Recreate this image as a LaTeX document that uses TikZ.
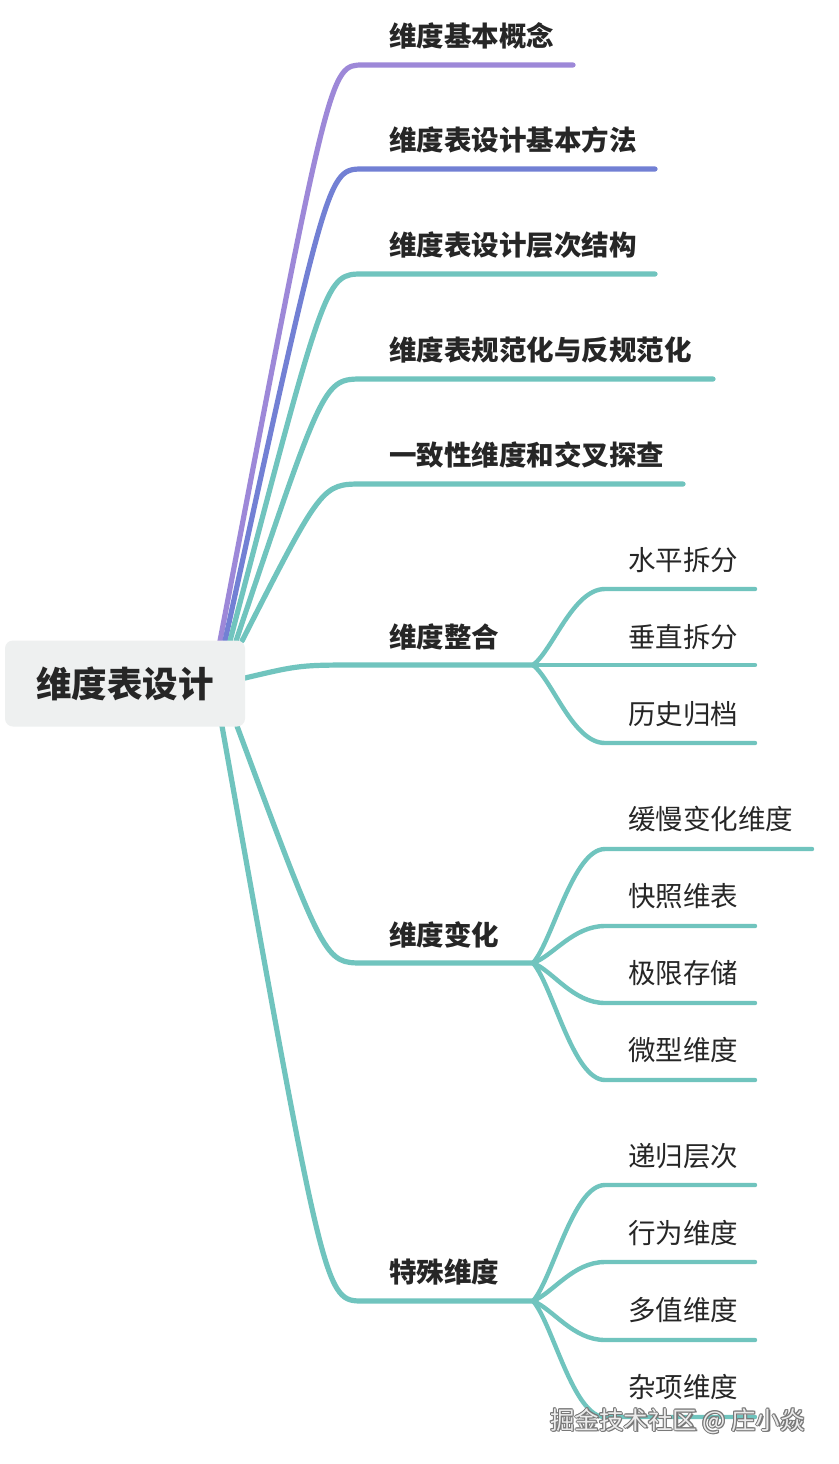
\documentclass[tikz,border=0pt]{standalone}
\usepackage{fontspec}
\newfontfamily\cjk{Noto Sans CJK SC}
\usetikzlibrary{backgrounds}
\definecolor{cpurple}{RGB}{157,136,216}
\definecolor{cblue}{RGB}{114,128,212}
\definecolor{cteal}{RGB}{112,196,190}
\definecolor{ctext}{RGB}{38,38,38}
\definecolor{rootfill}{RGB}{238,240,240}
\definecolor{wmfill}{RGB}{236,236,236}
\definecolor{wmedge}{RGB}{120,120,120}
\tikzset{
  rootbox/.style={draw=none, fill=rootfill, rounded corners=8pt, minimum width=240pt, minimum height=86pt, inner sep=0pt, text=ctext, font=\cjk\bfseries\fontsize{35.5}{40}\selectfont},
  lonelabel/.style={anchor=west, inner sep=0pt, text=ctext, font=\cjk\bfseries\fontsize{27.5}{32}\selectfont},
  ltwolabel/.style={anchor=west, inner sep=0pt, text=ctext, font=\cjk\fontsize{27.5}{32}\selectfont},
  mainline/.style={line width=5.2pt, line cap=round, line join=round},
  subline/.style={line width=4.4pt, line cap=round, line join=round, cteal},
  wmtext/.style={anchor=west, inner sep=0pt, font=\cjk\fontsize{24.5}{28}\selectfont},
}
\begin{document}
\begin{tikzpicture}[x=1pt,y=-1pt]
\useasboundingbox (0,0) rectangle (838,1464);

% root
\node[rootbox] (root) at (125,683.5) {维度表设计};

% start points on the root
\coordinate (s1) at (220,641);
\coordinate (s2) at (225,641);
\coordinate (s3) at (230,641);
\coordinate (s4) at (236,641);
\coordinate (s5) at (242,641);
\coordinate (s6) at (245,678);
\coordinate (s7) at (237,726);
\coordinate (s8) at (222,726);

% level-1 labels
\node[lonelabel] (n1) at (389,36) {维度基本概念};
\node[lonelabel] (n2) at (389,140) {维度表设计基本方法};
\node[lonelabel] (n3) at (389,245) {维度表设计层次结构};
\node[lonelabel] (n4) at (389,350) {维度表规范化与反规范化};
\node[lonelabel] (n5) at (389,455) {一致性维度和交叉探查};
\node[lonelabel] (n6) at (389,637) {维度整合};
\node[lonelabel] (n7) at (389,935) {维度变化};
\node[lonelabel] (n8) at (389,1272) {特殊维度};

% level-1 line bends and ends
\coordinate (n1a) at (363,65);   \coordinate (n1b) at (573,65);
\coordinate (n2a) at (363,169);  \coordinate (n2b) at (655,169);
\coordinate (n3a) at (363,274);  \coordinate (n3b) at (655,274);
\coordinate (n4a) at (363,379);  \coordinate (n4b) at (713,379);
\coordinate (n5a) at (363,484);  \coordinate (n5b) at (683,484);
\coordinate (n6a) at (363,665);  \coordinate (f6) at (533,665);
\coordinate (n7a) at (363,963);  \coordinate (f7) at (533,963);
\coordinate (n8a) at (363,1301); \coordinate (f8) at (533,1301);

% level-2 labels
\node[ltwolabel] (c61) at (628,560) {水平拆分};
\node[ltwolabel] (c62) at (628,637) {垂直拆分};
\node[ltwolabel] (c63) at (628,714) {历史归档};
\node[ltwolabel] (c71) at (628,819) {缓慢变化维度};
\node[ltwolabel] (c72) at (628,896) {快照维表};
\node[ltwolabel] (c73) at (628,973) {极限存储};
\node[ltwolabel] (c74) at (628,1050) {微型维度};
\node[ltwolabel] (c81) at (628,1156) {递归层次};
\node[ltwolabel] (c82) at (628,1233) {行为维度};
\node[ltwolabel] (c83) at (628,1310) {多值维度};
\node[ltwolabel] (c84) at (628,1387) {杂项维度};

% level-2 line bends and ends
\coordinate (c61a) at (605,589);  \coordinate (c61b) at (755,589);
\coordinate (c62b) at (755,665);
\coordinate (c63a) at (605,743);  \coordinate (c63b) at (755,743);
\coordinate (c71a) at (605,849);  \coordinate (c71b) at (812,849);
\coordinate (c72a) at (605,926);  \coordinate (c72b) at (755,926);
\coordinate (c73a) at (605,1003); \coordinate (c73b) at (755,1003);
\coordinate (c74a) at (605,1080); \coordinate (c74b) at (755,1080);
\coordinate (c81a) at (605,1185); \coordinate (c81b) at (755,1185);
\coordinate (c82a) at (605,1262); \coordinate (c82b) at (755,1262);
\coordinate (c83a) at (605,1340); \coordinate (c83b) at (755,1340);
\coordinate (c84a) at (605,1417); \coordinate (c84b) at (755,1417);

\begin{scope}[on background layer]
  \fill[white] (0,0) rectangle (838,1464);
  % level-1 connectors
  \draw[mainline,cpurple] (s1) .. controls (330,65) .. (n1a) -- (n1b);
  \draw[mainline,cblue]   (s2) .. controls (328,169) .. (n2a) -- (n2b);
  \draw[mainline,cteal]   (s3) .. controls (326,274) .. (n3a) -- (n3b);
  \draw[mainline,cteal]   (s4) .. controls (324,379) .. (n4a) -- (n4b);
  \draw[mainline,cteal]   (s5) .. controls (322,484) .. (n5a) -- (n5b);
  \draw[mainline,cteal]   (s6) .. controls (300,665) .. (n6a) -- (f6);
  \draw[mainline,cteal]   (s7) .. controls (325,963) .. (n7a) -- (f7);
  \draw[mainline,cteal]   (s8) .. controls (325,1301) .. (n8a) -- (f8);
  % level-2 connectors
  \draw[subline] (f6) .. controls +(20,-15) and +(-32,0) .. (c61a) -- (c61b);
  \draw[subline] (f6) -- (c62b);
  \draw[subline] (f6) .. controls +(20,16) and +(-32,0) .. (c63a) -- (c63b);
  \draw[subline] (f7) .. controls +(20,-23) and +(-32,0) .. (c71a) -- (c71b);
  \draw[subline] (f7) .. controls +(20,-7) and +(-32,0) .. (c72a) -- (c72b);
  \draw[subline] (f7) .. controls +(20,8) and +(-32,0) .. (c73a) -- (c73b);
  \draw[subline] (f7) .. controls +(20,23) and +(-32,0) .. (c74a) -- (c74b);
  \draw[subline] (f8) .. controls +(20,-23) and +(-32,0) .. (c81a) -- (c81b);
  \draw[subline] (f8) .. controls +(20,-8) and +(-32,0) .. (c82a) -- (c82b);
  \draw[subline] (f8) .. controls +(20,8) and +(-32,0) .. (c83a) -- (c83b);
  \draw[subline] (f8) .. controls +(20,23) and +(-32,0) .. (c84a) -- (c84b);
\end{scope}

% watermark
\foreach \dx/\dy [count=\k] in {-0.9/0,0.9/0,0/-0.9,0/0.9,1.3/1.3,-0.7/-0.7,0.7/-0.7,-0.7/0.7}{
  \node[wmtext,text=wmedge] (wm\k) at (550+\dx,1421+\dy) {掘金技术社区 @ 庄小焱};
}
\node[wmtext,text=wmfill] (wm) at (550,1421) {掘金技术社区 @ 庄小焱};
\end{tikzpicture}
\end{document}
